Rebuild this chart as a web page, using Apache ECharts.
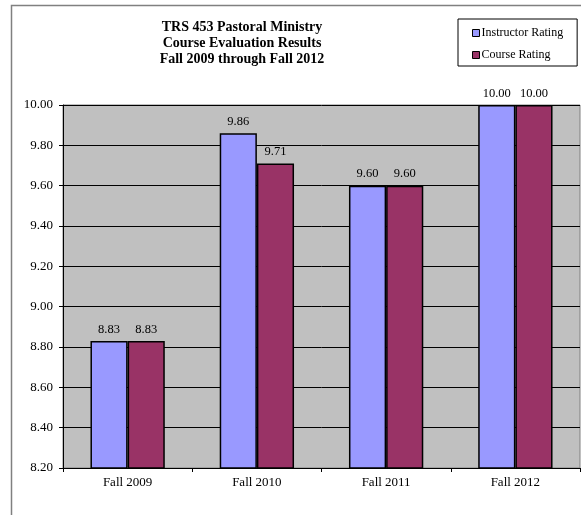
<!DOCTYPE html>
<html><head><meta charset="utf-8">
<script src="https://cdn.jsdelivr.net/npm/echarts@6/dist/echarts.min.js"></script>
<style>html,body{margin:0;padding:0;background:#fff}#c{width:581px;height:515px}</style>
</head><body><div id="c"></div>
<script>
const categories = ["Fall 2009", "Fall 2010", "Fall 2011", "Fall 2012"];
const instructorRating = [8.83, 9.86, 9.60, 10.00];
const courseRating = [8.83, 9.71, 9.60, 10.00];
const seriesNames = ["Instructor Rating", "Course Rating"];
const titleLines = ["TRS 453 Pastoral Ministry", "Course Evaluation Results", "Fall 2009 through Fall 2012"];
const yMin = 8.2, yMax = 10.0, yStep = 0.2;

const font = "'Liberation Serif', 'Times New Roman', serif";
const chart = echarts.init(document.getElementById('c'));
const lbl = {show: true, position: 'top', distance: 5, color: '#000', fontFamily: font, fontSize: 12.5,
  formatter: p => p.value.toFixed(2)};
chart.setOption({
  animation: false,
  graphic: [{type: 'rect', shape: {x: 11.5, y: 5.5, width: 600, height: 600}, style: {fill: 'none', stroke: '#808080', lineWidth: 1.5}, z: -1}],
  title: {text: titleLines.join('\n'), left: 237, top: 14, textAlign: 'center',
    textStyle: {fontFamily: font, fontSize: 14, fontWeight: 'bold', color: '#000', lineHeight: 16}},
  legend: {orient: 'vertical', left: 458, top: 19, borderColor: '#000', borderWidth: 1,
    padding: [8, 14, 5, 14], itemGap: 10, itemWidth: 7, itemHeight: 7, icon: 'rect',
    textStyle: {fontFamily: font, fontSize: 12, lineHeight: 12, color: '#000', padding: [0, 0, 0, -3]},
    itemStyle: {borderColor: '#000', borderWidth: 1}},
  grid: {left: 63, right: 1, top: 105, bottom: 47, show: true, backgroundColor: '#C0C0C0', borderColor: '#808080', borderWidth: 1},
  xAxis: {type: 'category', data: categories,
    axisLine: {lineStyle: {color: '#000', width: 1}},
    axisTick: {show: true, alignWithLabel: false, length: 4, lineStyle: {color: '#000'}},
    axisLabel: {fontFamily: font, fontSize: 13, color: '#000', margin: 8}},
  yAxis: {type: 'value', min: yMin, max: yMax, interval: yStep,
    axisLine: {show: true, lineStyle: {color: '#000'}},
    axisTick: {show: true, length: 4, lineStyle: {color: '#000'}},
    axisLabel: {fontFamily: font, fontSize: 13, color: '#000', margin: 10, formatter: v => v.toFixed(2)},
    splitLine: {lineStyle: {color: '#000', width: 1}}},
  series: [
    {name: seriesNames[0], type: 'bar', data: instructorRating, barGap: '0%', barCategoryGap: '42.5%',
      itemStyle: {color: '#9999FF', borderColor: '#000', borderWidth: 1.5}, label: lbl},
    {name: seriesNames[1], type: 'bar', data: courseRating,
      itemStyle: {color: '#993366', borderColor: '#000', borderWidth: 1.5}, label: lbl}
  ]
});
</script></body></html>
